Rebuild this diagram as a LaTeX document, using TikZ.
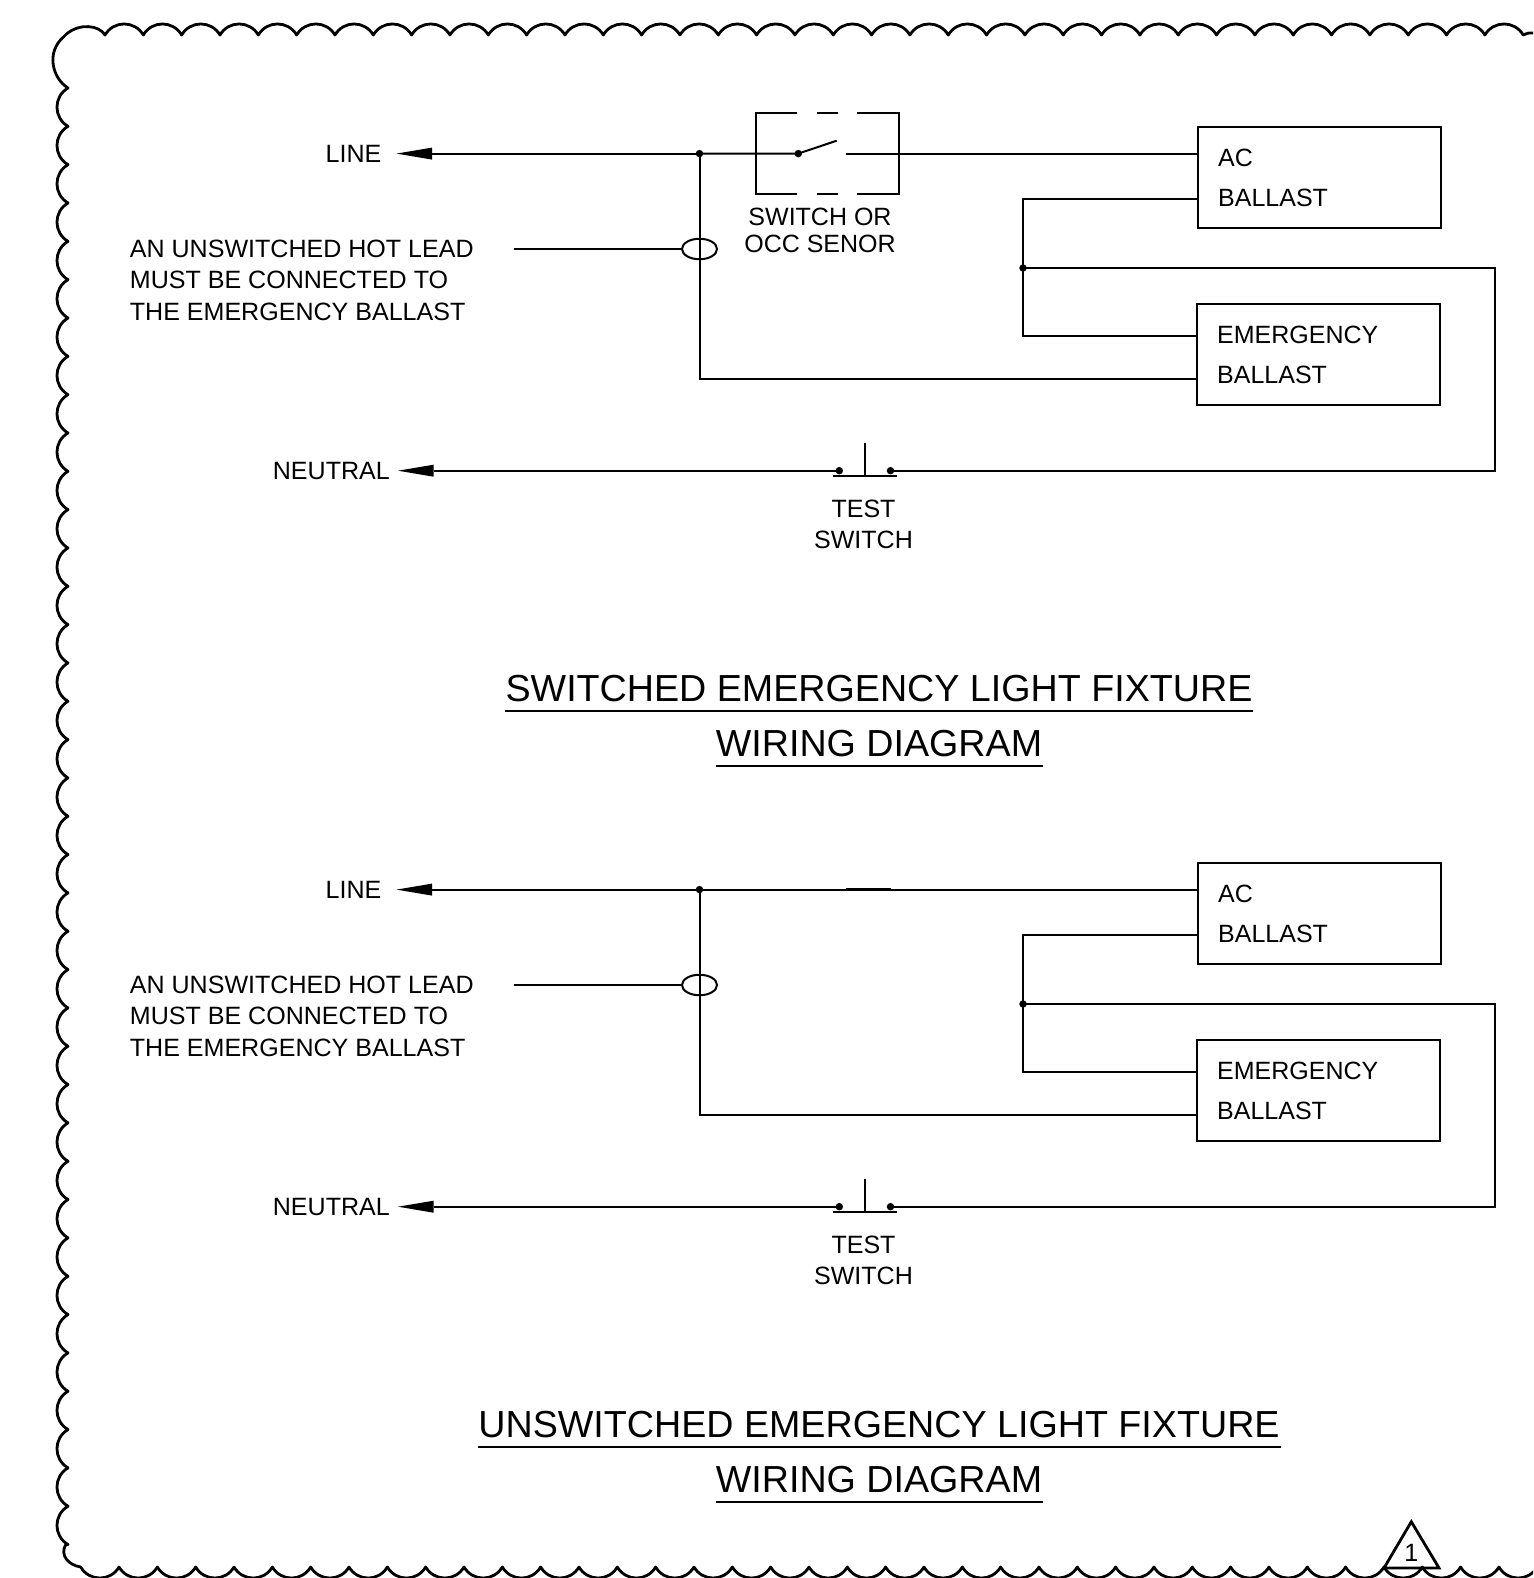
\documentclass[tikz,border=0pt]{standalone}
\usepackage{fontspec}
\setmainfont{Liberation Sans}
\usetikzlibrary{calc,shapes.geometric}
\newcommand{\dn}[1]{\raisebox{-3pt}{#1}}
\tikzset{
  wire/.style={line width=2pt,black,line cap=butt},
  cloud/.style={line width=2.8pt,black,line join=round},
  device/.style={draw,line width=2pt,rectangle,minimum width=243.4pt,minimum height=100.5pt,anchor=north west,inner xsep=20.6pt,inner ysep=0pt,text width=202pt,align=left,font=\fontsize{25}{40.3}\selectfont},
  lbl/.style={inner sep=0pt,font=\fontsize{25.05}{31.2}\selectfont},
  ttl/.style={inner sep=0pt,anchor=base,font=\fontsize{37.65}{40}\selectfont},
  dot/.style={circle,fill=black,draw=none,inner sep=0pt,minimum size=7.5pt},
  head/.style={fill=black,draw=none},
}
\newcommand{\wiringcommon}[1]{%
  \node[device] (#1ac) at (1196.5,126.3) {\dn{AC}\\\dn{BALLAST}};
  \node[device] (#1em) at (1195.5,303.3) {\dn{EMERGENCY}\\\dn{BALLAST}};
  \node[lbl,anchor=base east] (#1linelbl) at (381.5,162.8) {LINE};
  \node[lbl,anchor=base east] (#1neutlbl) at (390,479.5) {NEUTRAL};
  \node[lbl,align=left,anchor=west] (#1note) at (129.7,280.2) {AN UNSWITCHED HOT LEAD\\MUST BE CONNECTED TO\\THE EMERGENCY BALLAST};
  \node[lbl,anchor=base] (#1tst) at (863.5,517) {TEST};
  \node[lbl,anchor=base] (#1tsw) at (863.5,548.2) {SWITCH};
  \coordinate (#1tipL) at (396.5,153.6);
  \coordinate (#1baseL) at (432,153.6);
  \coordinate (#1tipN) at (398,470.7);
  \coordinate (#1baseN) at (433.5,470.7);
  \coordinate (#1j) at (699.5,153.6);
  \coordinate (#1acin) at (#1ac.west |- #1j);
  \coordinate (#1low) at (699.5,379.2);
  \coordinate (#1lowend) at (#1em.west |- #1low);
  \coordinate (#1a) at (1023,199.3);
  \coordinate (#1b) at (1023,336.2);
  \coordinate (#1m) at (1023,268);
  \coordinate (#1r) at (1495,268);
  \coordinate (#1rb) at (1495,470.7);
  \node[dot] (#1jd) at (#1j) {};
  \node[dot] (#1md) at (#1m) {};
  \node[dot] (#1t1) at (839.3,470.7) {};
  \node[dot] (#1t2) at (890.5,470.7) {};
  \node[draw,line width=2pt,ellipse,minimum width=35pt,minimum height=20.5pt,inner sep=0pt] (#1ell) at (699.5,249) {};
  \coordinate (#1nw) at (514,249);
  \fill[head] (#1tipL) -- ($(#1baseL)+(0,-6)$) -- ($(#1baseL)+(0,6)$) -- cycle;
  \fill[head] (#1tipN) -- ($(#1baseN)+(0,-6)$) -- ($(#1baseN)+(0,6)$) -- cycle;
  \draw[wire] (#1baseL) -- (#1jd.center);
  \draw[wire] (#1jd.center) -- (#1low) -- (#1lowend);
  \draw[wire] (#1nw) -- (#1ell.west);
  \draw[wire] (#1ac.west |- #1a) -- (#1a) -- (#1b) -- (#1em.west |- #1b);
  \draw[wire] (#1md.center) -- (#1r) -- (#1rb) -- (#1t2.center);
  \draw[wire] (#1baseN) -- (#1t1.center);
  \draw[wire] (832.7,475.7) -- (897.3,475.7);
  \draw[wire] (865,442.7) -- (865,475.7);
}
\begin{document}
\begin{tikzpicture}[x=1pt,y=-1pt]
\useasboundingbox (0,0) rectangle (1533,1578);
% revision cloud
\begin{scope}
\clip (0,0) rectangle (1533,1578);
\draw[cloud] (1533,33) .. controls (1529,33) and (1526,33) .. (1523.2,35)
  \foreach \k in {1,...,37}{ .. controls +(-8.6,-14.7) and +(8.6,-14.7) .. ++(-38.33,0)}
  .. controls +(-6,-10) and +(13,-11) .. (66.5,34)
  -- (63.5,37)
  .. controls (46,52) and (52,78) .. (68,88)
  \foreach \k in {1,...,38}{ .. controls +(-14.7,8.6) and +(-14.7,-8.6) .. ++(0,38.33)}
  -- (65.5,1545)
  .. controls (60,1555) and (68,1565) .. (80.7,1567)
  \foreach \k in {1,...,38}{ .. controls +(8.6,14.7) and +(-8.6,14.7) .. ++(38.33,0)};
\end{scope}
% upper diagram
\wiringcommon{u}
\node[lbl,align=center,font=\fontsize{25}{26.8}\selectfont] (swl) at (820,230.2) {SWITCH OR\\OCC SENOR};
\coordinate (swa) at (798.3,153.6);
\coordinate (swb) at (836.7,140.7);
\coordinate (swc) at (845.7,153.6);
\node[dot] (swd) at (swa) {};
\draw[wire] (uj) -- (swd.center) -- (swb);
\draw[wire] (swc) -- (uacin);
\draw[wire] (797.3,113) -- (756.3,113) -- (756.3,194) -- (797.3,194);
\draw[wire] (816.7,113) -- (838.3,113);
\draw[wire] (816.7,194) -- (838.3,194);
\draw[wire] (857.3,113) -- (898.7,113) -- (898.7,194) -- (857.3,194);
\node[ttl] (t1) at (879,701.8) {SWITCHED EMERGENCY LIGHT FIXTURE};
\node[ttl] (t2) at (879,756.8) {WIRING DIAGRAM};
\draw[wire] (505,710.6) -- (1253,710.6);
\draw[wire] (715.5,765.5) -- (1042.5,765.5);
% lower diagram
\begin{scope}[shift={(0,736)}]
\wiringcommon{d}
\draw[wire] (dj) -- (dacin);
\draw[line width=2.6pt] (846,153.6) -- (891,153.6);
\end{scope}
\node[ttl] (t3) at (879,1437.8) {UNSWITCHED EMERGENCY LIGHT FIXTURE};
\node[ttl] (t4) at (879,1492.8) {WIRING DIAGRAM};
\draw[wire] (477.5,1446.6) -- (1280.5,1446.6);
\draw[wire] (715.5,1501.5) -- (1042.5,1501.5);
% revision triangle
\coordinate (ra) at (1411.3,1521.7);
\coordinate (rb) at (1384,1568);
\coordinate (rc) at (1439,1568);
\draw[cloud,line join=miter] (ra) -- (rb) -- (rc) -- cycle;
\node[lbl,anchor=base] (rn) at (1411.3,1561) {1};
\end{tikzpicture}
\end{document}
